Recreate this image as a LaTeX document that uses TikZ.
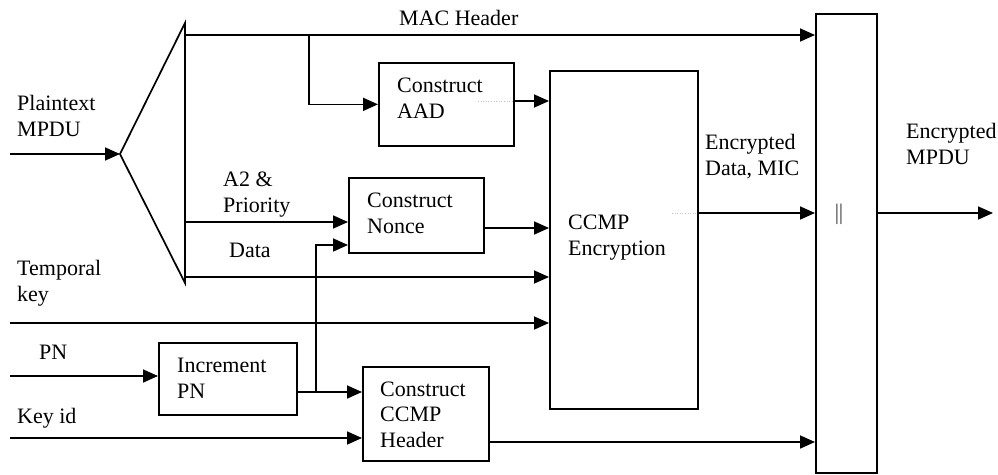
\documentclass[tikz,border=0pt]{standalone}
\usepackage{fontspec}
\setmainfont{Liberation Serif}
\usetikzlibrary{arrows.meta}
\begin{document}
\begin{tikzpicture}[x=1pt,y=-1pt,
  line/.style={line width=1.7pt},
  arr/.style={line, -{Triangle[length=15pt,width=13pt]}},
  box/.style={draw, line width=1.7pt, anchor=north west, inner sep=0pt},
  lbl/.style={anchor=base west, inner sep=0pt, align=left, font=\fontsize{22}{25.5}\selectfont},
  faint/.style={draw=gray!45, dotted, line width=0.6pt}]
\useasboundingbox (0,0) rectangle (998,474);
\fill[white] (0,0) rectangle (998,474);
% boxes
\node[box, minimum width=135pt, minimum height=83pt] (aad) at (378,62) {};
\node[box, minimum width=148pt, minimum height=338pt] (ccmp) at (549,70) {};
\node[box, minimum width=135pt, minimum height=75pt] (nonce) at (348,177) {};
\node[box, minimum width=138pt, minimum height=72pt] (inc) at (158,342) {};
\node[box, minimum width=126pt, minimum height=94pt] (hdr) at (362,366) {};
\node[box, minimum width=61pt, minimum height=459pt] (cat) at (815,13) {};
% splitter
\coordinate (top) at (185,23);
\coordinate (apex) at (120,154);
\coordinate (bot) at (185,283);
\draw[line, line join=miter] (top) -- (apex) -- (bot) -- cycle;
% free ends
\coordinate (inPt) at (10,154);
\coordinate (mac) at (185,35);
\coordinate (macB) at (240,35);
\coordinate (brA) at (309,35);
\coordinate (a2) at (185,222);
\coordinate (data) at (185,277);
\coordinate (nO) at (483,228);
\coordinate (tk) at (10,323);
\coordinate (pn) at (10,376);
\coordinate (iO) at (296,392);
\coordinate (j1) at (316,392);
\coordinate (j2) at (316,245);
\coordinate (kid) at (10,438);
\coordinate (hO) at (488,442);
\coordinate (eO) at (697,213);
\coordinate (outEnd) at (993,213);
\coordinate (aO) at (513,101);
% connectors
\draw[arr] (inPt) -- (apex);
\draw[arr] (mac) -- (mac -| cat.west);
\draw[line, line width=2.5pt] (macB) -- (brA);
\draw[arr] (brA) |- (aad.west);
\draw[arr] (aO) -- (aO -| ccmp.west);
\draw[arr] (a2) -- (a2 -| nonce.west);
\draw[arr] (data) -- (data -| ccmp.west);
\draw[arr] (nO) -- (nO -| ccmp.west);
\draw[arr] (tk) -- (tk -| ccmp.west);
\draw[arr] (pn) -- (pn -| inc.west);
\draw[arr] (iO) -- (iO -| hdr.west);
\draw[arr] (j1) -- (j2) -- (j2 -| nonce.west);
\draw[arr] (kid) -- (kid -| hdr.west);
\draw[arr] (hO) -- (hO -| cat.west);
\draw[arr] (eO) -- (eO -| cat.west);
\draw[arr] (eO -| cat.east) -- (outEnd);
% faint dotted artifacts
\draw[faint] (478,101) -- (aO);
\draw[faint] (672,213) -- (eO);
% labels (base = baseline of last line)
\node[lbl] (tMac) at (399,25) {MAC Header};
\node[lbl] (tPlain) at (17,136) {Plaintext\\MPDU};
\node[lbl] (tAad) at (397,118) {Construct\\AAD};
\node[lbl] (tA2) at (223,212) {A2 \&\\Priority};
\node[lbl] (tData) at (229,257) {Data};
\node[lbl] (tNonce) at (367,233) {Construct\\Nonce};
\node[lbl] (tCcmp) at (568,255) {CCMP\\Encryption};
\node[lbl] (tEnc) at (705,175) {Encrypted\\Data, MIC};
\node[lbl] (tMpdu) at (906,164) {Encrypted\\MPDU};
\node[lbl] (tTk) at (17,301) {Temporal\\key};
\node[lbl] (tPn) at (39,359) {PN};
\node[lbl] (tInc) at (177,398) {Increment\\PN};
\node[lbl] (tKid) at (17,423) {Key id};
\node[lbl] (tHdr) at (380,447) {Construct\\CCMP\\Header};
\node[anchor=center, inner sep=0pt, font=\fontsize{22}{25.5}\selectfont] (tCat) at (839,214) {$\|$};
\end{tikzpicture}
\end{document}
